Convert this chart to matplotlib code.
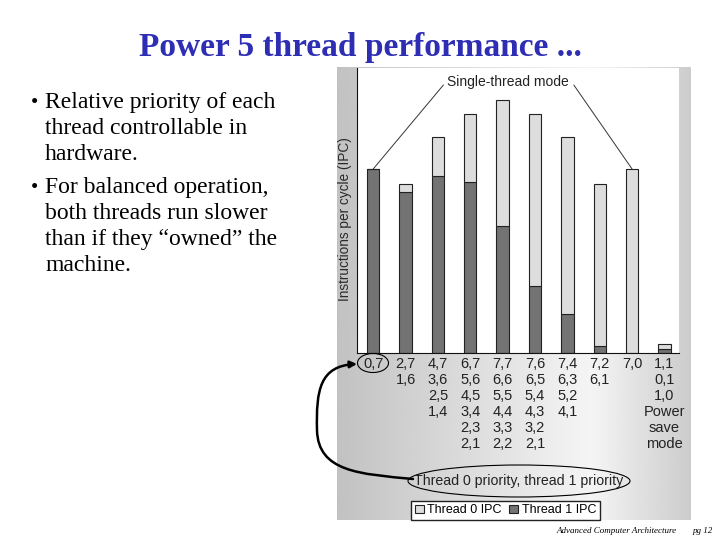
import numpy as np
import matplotlib.pyplot as plt
from matplotlib.patches import Ellipse, FancyArrowPatch
from matplotlib.path import Path

# priority pairs (thread 0, thread 1) under each bar
priorities = [
    ["0,7"],
    ["2,7", "1,6"],
    ["4,7", "3,6", "2,5", "1,4"],
    ["6,7", "5,6", "4,5", "3,4", "2,3", "2,1"],
    ["7,7", "6,6", "5,5", "4,4", "3,3", "2,2"],
    ["7,6", "6,5", "5,4", "4,3", "3,2", "2,1"],
    ["7,4", "6,3", "5,2", "4,1"],
    ["7,2", "6,1"],
    ["7,0"],
    ["1,1", "0,1", "1,0", "Power", "save", "mode"],
]
thread1_ipc = [1.84, 1.61, 1.77, 1.71, 1.27, 0.67, 0.39, 0.07, 0.00, 0.04]
thread0_ipc = [0.00, 0.08, 0.39, 0.68, 1.26, 1.72, 1.77, 1.62, 1.84, 0.05]

bullets = [
    ["Relative priority of each", "thread controllable in", "hardware."],
    ["For balanced operation,", "both threads run slower",
     "than if they \u201cowned\u201d the", "machine."],
]

W, H = 720, 540
fig = plt.figure(figsize=(7.2, 5.4), dpi=100)


def fx(px):
    return px / W


def fy(py):
    return 1 - py / H


# title
fig.text(fx(360), fy(56), "Power 5 thread performance ...", ha='center', va='baseline',
         family='Liberation Serif', weight='bold', size=24, color='#2e2eb4')

# bullet text
base = 108
for para in bullets:
    fig.text(fx(31), fy(base), "\u2022", ha='left', va='baseline',
             family='Liberation Serif', size=15)
    for line in para:
        fig.text(fx(45), fy(base), line, ha='left', va='baseline',
                 family='Liberation Serif', size=17)
        base += 26
    base += 7

# grey panel behind the chart
bg = fig.add_axes([fx(337), fy(520), (691 - 337) / W, (520 - 67) / H])
t = np.linspace(0, 1, 300)
shade = np.interp(t, [0, 0.72, 1], [0.76, 0.96, 0.80])
bg.imshow(np.tile(shade, (10, 1)), aspect='auto', cmap='gray', vmin=0, vmax=1)
bg.axis('off')

# bar chart
ax = fig.add_axes([fx(357), fy(353), (679 - 357) / W, (353 - 68) / H])
ax.set_facecolor('white')
x = np.arange(len(priorities))
dark = ax.bar(x, thread1_ipc, 0.38, color='#737373', edgecolor='#222222', lw=0.8,
              label='Thread 1 IPC')
light = ax.bar(x, thread0_ipc, 0.38, bottom=thread1_ipc, color='#dddddd',
               edgecolor='#222222', lw=0.8, label='Thread 0 IPC')
ax.set_xlim(-0.5, 9.45)
ax.set_ylim(0, 2.85)
ax.set_yticks([])
ax.set_xticks(x, ['\n'.join(p) for p in priorities], fontsize=10.5,
              family='Liberation Sans', linespacing=1.17, color='#222222')
ax.tick_params(axis='x', length=0, pad=3)
for s in ['top', 'right']:
    ax.spines[s].set_visible(False)
ax.spines['left'].set_color('#111111')
ax.spines['bottom'].set_color('#111111')
ax.set_ylabel("Instructions per cycle (IPC)", family='Liberation Sans', fontsize=9.8,
              color='#2a2a2a')
ax.yaxis.set_label_coords(-0.016, 0.47)

totals = [a + b for a, b in zip(thread1_ipc, thread0_ipc)]
ax.text(4.17, 2.71, "Single-thread mode", ha='center', va='center',
        family='Liberation Sans', fontsize=10, color='#222222')
ax.annotate('', xy=(0, totals[0]), xytext=(2.17, 2.68),
            arrowprops=dict(arrowstyle='-', lw=0.7, color='#333333', shrinkA=0, shrinkB=0))
ax.annotate('', xy=(8, totals[8]), xytext=(6.2, 2.68),
            arrowprops=dict(arrowstyle='-', lw=0.7, color='#333333', shrinkA=0, shrinkB=0))

fig.legend(handles=[light, dark], labels=['Thread 0 IPC', 'Thread 1 IPC'],
           loc='lower left', bbox_to_anchor=(fx(411), fy(520)), ncol=2,
           prop={'family': 'Liberation Sans', 'size': 9}, frameon=True,
           fancybox=False, edgecolor='#222222', framealpha=1, handlelength=0.7,
           handleheight=0.7, handletextpad=0.3, columnspacing=0.6,
           borderpad=0.3, borderaxespad=0)

# overlay in pixel coordinates for the annotations
ov = fig.add_axes([0, 0, 1, 1], facecolor='none')
ov.set_xlim(0, W)
ov.set_ylim(H, 0)
ov.axis('off')
ov.add_patch(Ellipse((373, 363), 31, 19, fill=False, lw=0.8, color='black'))
ov.add_patch(Ellipse((519, 481), 222, 32, fill=False, lw=0.8, color='black'))
ov.text(519, 481, "Thread 0 priority, thread 1 priority", ha='center', va='center',
        family='Liberation Sans', fontsize=10.2, color='#222222')
path = Path([(413, 479), (360, 474), (318, 472), (317, 430),
             (316, 390), (320, 366), (357, 364)],
            [Path.MOVETO, Path.CURVE4, Path.CURVE4, Path.CURVE4,
             Path.CURVE4, Path.CURVE4, Path.CURVE4])
ov.add_patch(FancyArrowPatch(path=path, arrowstyle='-|>', mutation_scale=10,
                             lw=1.8, color='black'))

# footer
fig.text(fx(617), fy(533), "Advanced Computer Architecture", ha='center', va='baseline',
         family='Liberation Serif', style='italic', size=6.5)
fig.text(fx(703), fy(533), "pg 12", ha='center', va='baseline',
         family='Liberation Serif', style='italic', size=6.5)

fig.savefig('out.png', dpi=100)
